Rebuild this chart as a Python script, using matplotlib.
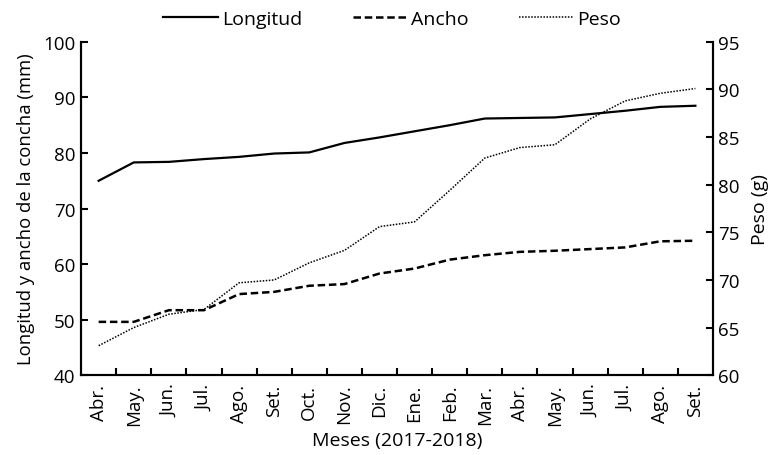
import numpy as np
import matplotlib.pyplot as plt

plt.rcParams['font.family'] = ['Open Sans', 'DejaVu Sans']

# meses de abril 2017 a setiembre 2018
meses = ['Abr.', 'May.', 'Jun.', 'Jul.', 'Ago.', 'Set.', 'Oct.', 'Nov.', 'Dic.',
         'Ene.', 'Feb.', 'Mar.', 'Abr.', 'May.', 'Jun.', 'Jul.', 'Ago.', 'Set.']

longitud = [75.0, 78.3, 78.4, 78.9, 79.3, 79.9, 80.1, 81.8, 82.8,
            83.9, 85.0, 86.2, 86.3, 86.4, 87.0, 87.6, 88.3, 88.5]
ancho = [49.6, 49.6, 51.7, 51.7, 54.6, 55.0, 56.1, 56.4, 58.3,
         59.2, 60.8, 61.6, 62.2, 62.4, 62.7, 63.0, 64.1, 64.2]
peso = [63.1, 65.0, 66.4, 66.9, 69.7, 70.0, 71.8, 73.1, 75.6,
        76.1, 79.4, 82.8, 83.9, 84.2, 86.9, 88.8, 89.6, 90.1]

x = np.arange(len(meses))

fig = plt.figure(figsize=(7.8, 4.56), dpi=100)
ax = fig.add_axes([0.104, 0.175, 0.81, 0.731])
ax2 = ax.twinx()

l1, = ax.plot(x, longitud, c='black', lw=1.6, label='Longitud')
l2, = ax.plot(x, ancho, c='black', lw=1.8, ls=(0, (3, 1.5)), label='Ancho')
l3, = ax2.plot(x, peso, c='black', lw=1.1, ls=(0, (1, 1)), label='Peso')

ax.set_xlim(-0.5, 17.5)
ax.set_ylim(40, 100)
ax2.set_ylim(60, 95)
ax.set_yticks(np.arange(40, 101, 10))
ax2.set_yticks(np.arange(60, 96, 5))

# marcas entre los meses, etiquetas al centro
ax.set_xticks(x[:-1] + 0.5)
ax.set_xticklabels([])
ax.set_xticks(x, minor=True)
ax.set_xticklabels(meses, minor=True, rotation=90, fontsize=13.5)
ax.tick_params(axis='x', which='minor', length=0, pad=6)
ax.tick_params(axis='x', which='major', direction='in', length=5, width=1.5)
ax.tick_params(axis='y', direction='in', length=5, width=1.5, labelsize=13.5, pad=4)
ax2.tick_params(axis='y', direction='in', length=5, width=1.5, labelsize=13.5, pad=4)

for a in (ax, ax2):
    a.spines['top'].set_visible(False)
    for s in ('left', 'right', 'bottom'):
        a.spines[s].set_linewidth(1.5)

ax.set_ylabel('Longitud y ancho de la concha (mm)', fontsize=13.3, labelpad=6)
ax2.set_ylabel('Peso (g)', fontsize=14, labelpad=8)
ax.set_xlabel('Meses (2017-2018)', fontsize=14, labelpad=4)

fig.legend([l1, l2, l3], ['Longitud', 'Ancho', 'Peso'], loc='upper center',
           bbox_to_anchor=(0.503, 1.015), ncol=3, frameon=False, fontsize=14,
           handlelength=2.8, handletextpad=0.2, columnspacing=2.6)

fig.savefig('out.png', dpi=100)
